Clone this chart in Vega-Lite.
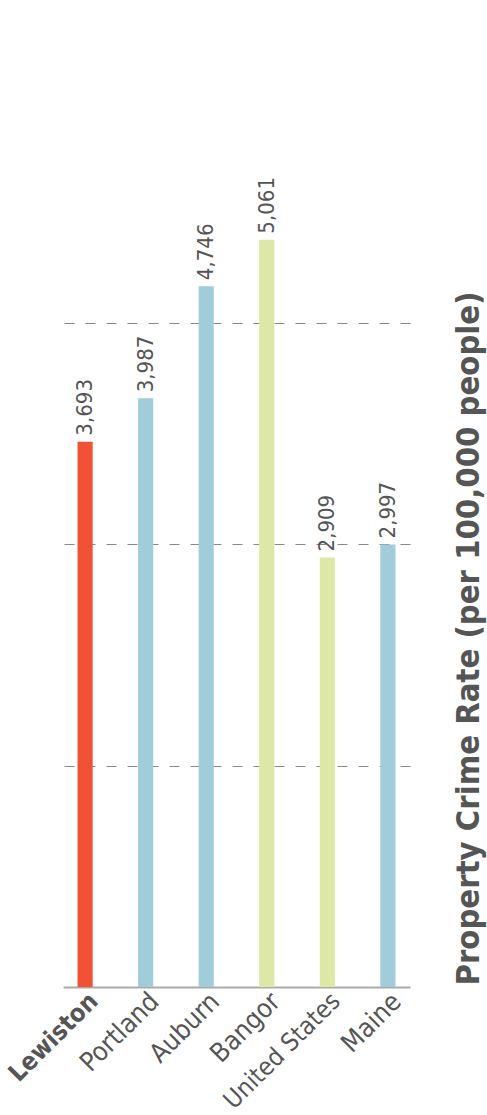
{
  "$schema": "https://vega.github.io/schema/vega-lite/v6.json",
  "autosize": "none",
  "width": 347,
  "height": 886,
  "padding": {"left": 63, "top": 101, "right": 77, "bottom": 128},
  "background": "white",
  "config": {"view": {"stroke": null}},
  "data": {
    "values": [
      {"place": "Lewiston", "rate": 3693, "group": "highlight"},
      {"place": "Portland", "rate": 3987, "group": "peer"},
      {"place": "Auburn", "rate": 4746, "group": "peer"},
      {"place": "Bangor", "rate": 5061, "group": "benchmark"},
      {"place": "United States", "rate": 2909, "group": "benchmark"},
      {"place": "Maine", "rate": 2997, "group": "peer"}
    ]
  },
  "encoding": {
    "x": {
      "field": "place",
      "type": "nominal",
      "sort": null,
      "scale": {"paddingInner": 0.75, "paddingOuter": 0.24},
      "axis": {
        "title": null,
        "labelAngle": -45,
        "labelFont": "DejaVu Sans Condensed, sans-serif",
        "labelFontSize": {"condition": {"test": "datum.value == 'United States' || datum.value == 'Lewiston'", "value": 25}, "value": 26.5},
        "labelColor": "#555555",
        "labelFontWeight": {"condition": {"test": "datum.value == 'Lewiston'", "value": "bold"}, "value": "normal"},
        "labelPadding": 1,
        "labelLimit": 0,
        "labelOverlap": false,
        "ticks": false,
        "domainColor": "#aaaaaa",
        "domainWidth": 2
      }
    },
    "y": {
      "field": "rate",
      "type": "quantitative",
      "scale": {"domain": [0, 6000], "nice": false},
      "axis": {
        "orient": "right",
        "values": [1500, 3000, 4500],
        "labels": false,
        "ticks": false,
        "domain": false,
        "grid": true,
        "gridDash": [10, 11],
        "gridColor": "#888888",
        "gridWidth": 1,
        "title": "Property Crime Rate (per 100,000 people)",
        "titleFont": "DejaVu Sans Condensed, sans-serif",
        "titleFontWeight": "bold",
        "titleFontSize": 32.5,
        "titleColor": "#555555",
        "titleAngle": 270,
        "titleAlign": "left",
        "titleBaseline": "alphabetic",
        "titleX": 68,
        "titleY": 884,
        "titleLimit": 0
      }
    }
  },
  "layer": [
    {
      "mark": {"type": "bar"},
      "encoding": {
        "color": {
          "field": "group",
          "type": "nominal",
          "scale": {"domain": ["highlight", "peer", "benchmark"], "range": ["#f15135", "#a1cddb", "#dde8a7"]},
          "legend": null
        }
      }
    },
    {
      "mark": {"type": "text", "angle": 270, "align": "left", "baseline": "middle", "dx": 6, "font": "DejaVu Sans Condensed, sans-serif", "fontSize": 22, "color": "#555555"},
      "encoding": {
        "text": {"field": "rate", "type": "quantitative", "format": ","},
        "fontWeight": {"condition": {"test": "datum.place == 'Lewiston'", "value": "bold"}, "value": "normal"}
      }
    }
  ]
}
